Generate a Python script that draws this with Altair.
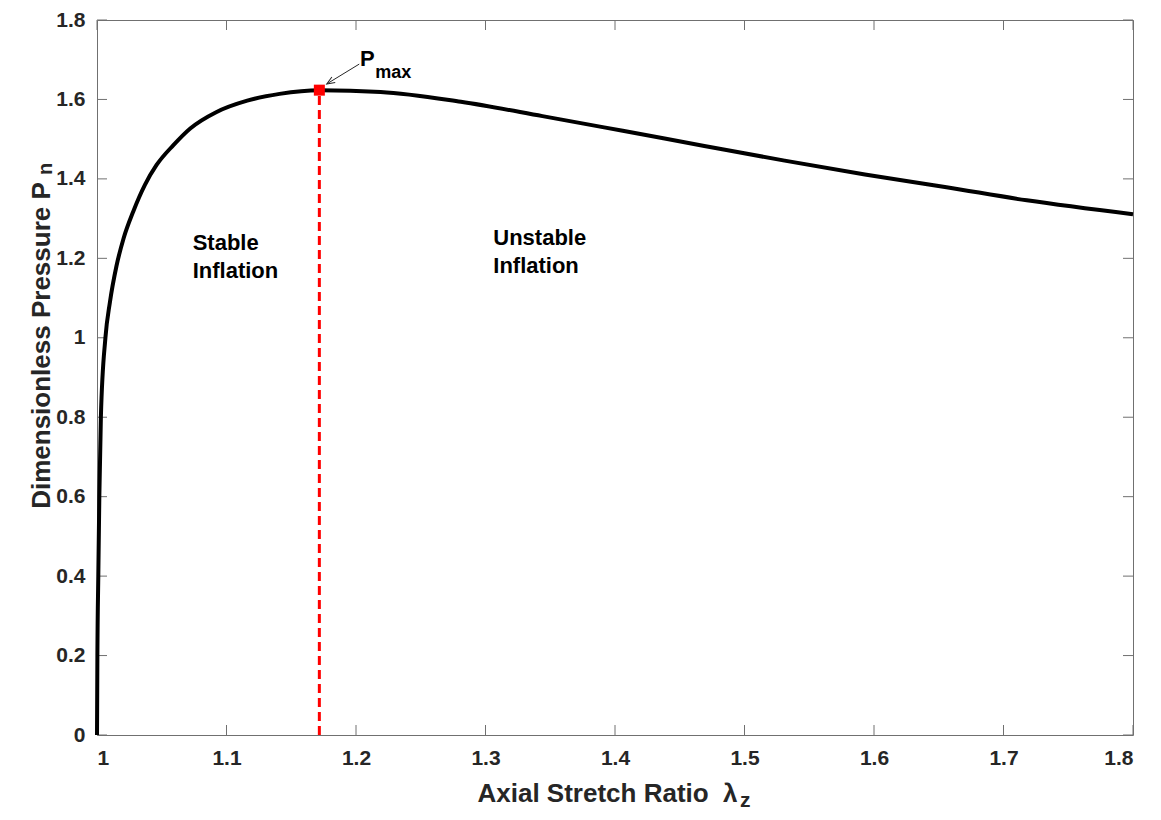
import altair as alt
import pandas as pd

# ---- data ----
lam = [1.000, 1.0003, 1.001, 1.0018, 1.003, 1.0065, 1.010, 1.015, 1.0205, 1.028,
       1.037, 1.046, 1.059, 1.072, 1.092, 1.116, 1.141, 1.172, 1.219, 1.281,
       1.344, 1.406, 1.469, 1.531, 1.593, 1.656, 1.718, 1.800]
pn = [0.0, 0.2, 0.4, 0.6, 0.8, 1.0, 1.09, 1.18, 1.25, 1.318,
      1.385, 1.435, 1.485, 1.527, 1.568, 1.597, 1.614, 1.623, 1.619, 1.594,
      1.558, 1.521, 1.483, 1.446, 1.411, 1.379, 1.346, 1.311]
x_ticks = [1.0, 1.1, 1.2, 1.3, 1.4, 1.5, 1.6, 1.7, 1.8]
y_ticks = [0.0, 0.2, 0.4, 0.6, 0.8, 1.0, 1.2, 1.4, 1.6, 1.8]
peak_lam = [1.1717]
peak_p = [1.6234]

label_text = ["Stable", "Inflation", "Unstable", "Inflation"]
label_lam = [1.0739, 1.0739, 1.306, 1.306]
label_p = [1.22, 1.15, 1.2333, 1.1625]

W, H = 1036, 715
FONT = "Liberation Sans"
AX = "#262626"
BOX = "#707070"

xs = alt.Scale(domain=[1, 1.8], nice=False, zero=False)
ys = alt.Scale(domain=[0, 1.8], nice=False, zero=False)

x_axis = alt.Axis(values=x_ticks, format="~g", title="Axial Stretch Ratio\u00a0 \u03bb",
                  grid=False, domain=False, ticks=False, labelPadding=12,
                  labelFontSize=21, labelFontWeight="bold", labelColor=AX, labelFont=FONT,
                  titleFont=FONT, titleFontSize=26, titleFontWeight="bold", titleColor=AX,
                  titleAlign="left", titleX=380, titleY=66, titleBaseline="alphabetic")
y_axis = alt.Axis(values=y_ticks, format="~g", title="Dimensionless Pressure P",
                  grid=False, domain=False, ticks=False, labelPadding=12,
                  labelFontSize=21, labelFontWeight="bold", labelColor=AX, labelFont=FONT,
                  titleFont=FONT, titleFontSize=26, titleFontWeight="bold", titleColor=AX,
                  titleAngle=270, titleAlign="center", titleX=-48, titleY=325,
                  titleBaseline="alphabetic")

curve_df = pd.DataFrame({"lam": lam, "p": pn})
curve = alt.Chart(curve_df).mark_line(color="black", strokeWidth=4, interpolate="monotone").encode(
    x=alt.X("lam:Q", scale=xs, axis=x_axis),
    y=alt.Y("p:Q", scale=ys, axis=y_axis),
)

peak_df = pd.DataFrame({"lam": peak_lam, "p": peak_p, "p0": [0.0]})
vline = alt.Chart(peak_df).mark_rule(color="#ff0000", strokeWidth=3, strokeDash=[9, 5]).encode(
    x=alt.X("lam:Q", scale=xs), y=alt.Y("p0:Q", scale=ys), y2="p:Q"
)
peak = alt.Chart(peak_df).mark_square(color="#ff0000", size=121, opacity=1).encode(
    x=alt.X("lam:Q", scale=xs), y=alt.Y("p:Q", scale=ys)
)

xt_df = pd.DataFrame({"lam": x_ticks})
yt_df = pd.DataFrame({"p": y_ticks})
tick_b = alt.Chart(xt_df).mark_rule(color=BOX, strokeWidth=1).encode(
    x=alt.X("lam:Q", scale=xs), y=alt.value(H), y2=alt.value(H - 10))
tick_t = alt.Chart(xt_df).mark_rule(color=BOX, strokeWidth=1).encode(
    x=alt.X("lam:Q", scale=xs), y=alt.value(0), y2=alt.value(10))
tick_l = alt.Chart(yt_df).mark_rule(color=BOX, strokeWidth=1).encode(
    y=alt.Y("p:Q", scale=ys), x=alt.value(0), x2=alt.value(10))
tick_r = alt.Chart(yt_df).mark_rule(color=BOX, strokeWidth=1).encode(
    y=alt.Y("p:Q", scale=ys), x=alt.value(W), x2=alt.value(W - 10))

lab_df = pd.DataFrame({"lam": label_lam, "p": label_p, "t": label_text})
labels = alt.Chart(lab_df).mark_text(align="left", baseline="alphabetic", fontSize=22,
                                     fontWeight="bold", font=FONT, color="black").encode(
    x=alt.X("lam:Q", scale=xs), y=alt.Y("p:Q", scale=ys), text="t:N")

pm_df = pd.DataFrame({"lam": [1.2031], "p": [1.6833], "t": ["P"]})
pm = alt.Chart(pm_df).mark_text(align="left", baseline="alphabetic", fontSize=22,
                                fontWeight="bold", font=FONT, color="black").encode(
    x=alt.X("lam:Q", scale=xs), y=alt.Y("p:Q", scale=ys), text="t:N")
mx_df = pd.DataFrame({"lam": [1.2148], "p": [1.654], "t": ["max"]})
mx = alt.Chart(mx_df).mark_text(align="left", baseline="alphabetic", fontSize=18,
                                fontWeight="bold", font=FONT, color="black").encode(
    x=alt.X("lam:Q", scale=xs), y=alt.Y("p:Q", scale=ys), text="t:N")

arr_df = pd.DataFrame({"lam": [1.2025], "p": [1.689], "lam2": [1.1774], "p2": [1.639]})
arrow = alt.Chart(arr_df).mark_rule(color=AX, strokeWidth=1).encode(
    x=alt.X("lam:Q", scale=xs), y=alt.Y("p:Q", scale=ys), x2="lam2:Q", y2="p2:Q")
head_df = pd.DataFrame({"lam": [1.1774], "p": [1.639]})
head = alt.Chart(head_df).mark_point(shape="M -0.4 1 L 0 0 L 0.4 1", filled=False, size=256,
                                     angle=238.5, color=AX, strokeWidth=1, opacity=1).encode(
    x=alt.X("lam:Q", scale=xs), y=alt.Y("p:Q", scale=ys))

sub_z = alt.Chart(pd.DataFrame({"t": ["z"]})).mark_text(
    align="left", baseline="alphabetic", fontSize=21, fontWeight="bold", font=FONT, color=AX
).encode(x=alt.value(643), y=alt.value(H + 72), text="t:N")
sub_n = alt.Chart(pd.DataFrame({"t": ["n"]})).mark_text(
    align="left", baseline="alphabetic", fontSize=20, fontWeight="bold", font=FONT, color=AX,
    angle=270
).encode(x=alt.value(-45), y=alt.value(155), text="t:N")

chart = alt.layer(
    tick_b, tick_t, tick_l, tick_r, curve, vline, peak, labels, pm, mx, arrow, head, sub_z, sub_n
).properties(
    width=W, height=H,
    autosize=alt.AutoSizeParams(type="none"),
    padding={"left": 89, "top": 12, "right": 20, "bottom": 77},
    background="white",
).configure_view(stroke=BOX, strokeWidth=1)

chart.save("out.html", embed_options={"renderer": "svg", "actions": False})
